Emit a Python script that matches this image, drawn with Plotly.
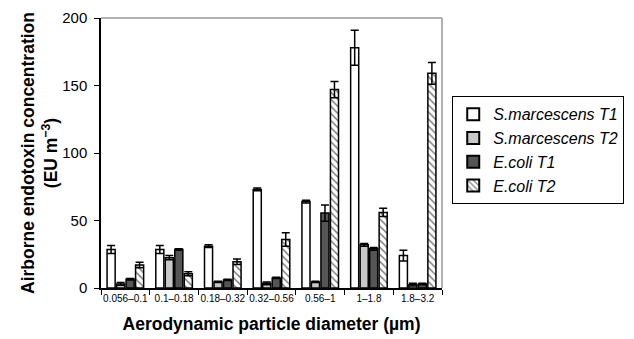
import plotly.graph_objects as go

categories = ["0.056–0.1", "0.1–0.18", "0.18–0.32", "0.32–0.56", "0.56–1", "1–1.8", "1.8–3.2"]
sm_t1 = [28.5, 28.5, 31, 73, 64, 178, 24]
sm_t1_err = [3, 3, 1, 1, 1, 13, 4]
sm_t2 = [3, 22.5, 4.5, 3.5, 4.5, 32, 2.5]
sm_t2_err = [1, 1.5, 0.5, 1, 0.5, 1, 1]
ec_t1 = [6.5, 28.5, 6, 7.5, 55.5, 29, 3]
ec_t1_err = [0.5, 0.5, 0.5, 0.5, 6, 1, 0.5]
ec_t2 = [17, 10.5, 19.5, 36, 147, 56, 159]
ec_t2_err = [2, 1.5, 2, 5, 6, 3, 8]
y_ticks = [0, 50, 100, 150, 200]

font = "Liberation Sans, Arial, sans-serif"

def eb(e):
    return dict(type="data", array=e, visible=True, color="black", thickness=1.5, width=4)

fig = go.Figure()
fig.add_bar(x=categories, y=sm_t1, name="<i>S.marcescens T1</i>", error_y=eb(sm_t1_err),
            marker=dict(color="white", line=dict(color="black", width=1.5)))
fig.add_bar(x=categories, y=sm_t2, name="<i>S.marcescens T2</i>", error_y=eb(sm_t2_err),
            marker=dict(color="#c8c8c8", line=dict(color="black", width=1.5)))
fig.add_bar(x=categories, y=ec_t1, name="<i>E.coli T1</i>", error_y=eb(ec_t1_err),
            marker=dict(color="#555555", line=dict(color="black", width=1.5)))
fig.add_bar(x=categories, y=ec_t2, name="<i>E.coli T2</i>", error_y=eb(ec_t2_err),
            marker=dict(color="white", line=dict(color="black", width=1.5),
                        pattern=dict(shape="\\", fgcolor="black", bgcolor="white", size=5, solidity=0.3)))

fig.update_layout(
    width=626, height=331,
    margin=dict(l=93, r=186, t=10, b=51),
    paper_bgcolor="white", plot_bgcolor="white",
    barmode="group", bargap=0.22, bargroupgap=0.15,
    font=dict(family=font, color="black"),
    showlegend=True,
    legend=dict(x=1.03, y=0.71, xanchor="left", yanchor="top",
                bordercolor="black", borderwidth=1, bgcolor="white",
                font=dict(size=16, family=font), tracegroupgap=0, itemwidth=30,
                itemsizing="constant"),
    xaxis=dict(showline=True, linecolor="black", linewidth=1.5, ticks="outside",
               tickson="boundaries", ticklen=5, tickcolor="black", tickangle=0,
               tickfont=dict(size=10), showgrid=False, automargin=False,
               title=dict(text="<b>Aerodynamic particle diameter (µm)</b>", font=dict(size=17.5), standoff=15)),
    yaxis=dict(range=[0, 200], tickvals=y_ticks, showline=True, linecolor="black", linewidth=1.5,
               ticks="outside", ticklen=5, tickcolor="black", tickfont=dict(size=15),
               ticklabeloverflow="allow", ticklabelstandoff=4,
               showgrid=False, zeroline=False, automargin=False,
               title=dict(text="<b>Airborne endotoxin concentration<br>(EU m<sup>−3</sup>)</b>",
                          font=dict(size=17.5), standoff=0)),
    shapes=[
        dict(type="line", xref="paper", yref="paper", x0=0, x1=1, y0=1, y1=1,
             line=dict(color="#999999", width=1.5)),
        dict(type="line", xref="paper", yref="paper", x0=1, x1=1, y0=0, y1=1,
             line=dict(color="#999999", width=1.5)),
    ],
)

fig.write_html("out.html")
